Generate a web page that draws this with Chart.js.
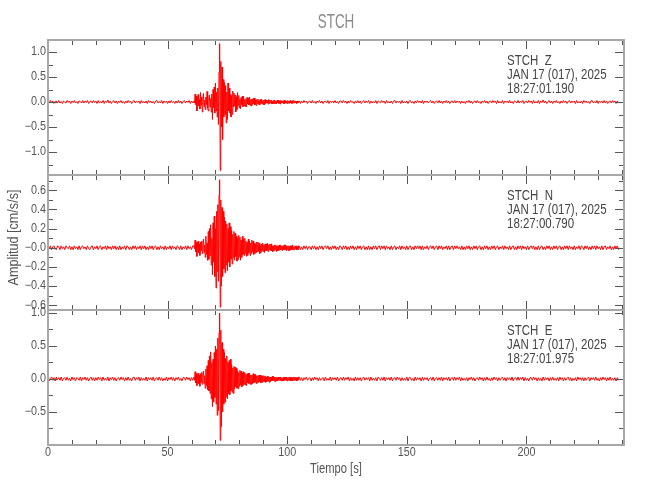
<!DOCTYPE html>
<html><head><meta charset="utf-8">
<script src="https://cdn.jsdelivr.net/npm/chart.js@4.4.1/dist/chart.umd.min.js"></script>
<style>
html,body{margin:0;padding:0;background:#fff;}
#wrap{position:relative;width:650px;height:500px;}
canvas{position:absolute;left:0;top:0;}
</style></head><body>
<div id="wrap">
<canvas id="cZ" width="650" height="500"></canvas>
<canvas id="cN" width="650" height="500"></canvas>
<canvas id="cE" width="650" height="500"></canvas>
</div>
<script>
// ---- sampling of the three record segments (seconds) ----
const PRE_START = 0,  PRE_DT = 0.5;
const ACT_START = 61, ACT_DT = 0.25;
const POST_START = 105, POST_DT = 0.5;

// ---- Z component (cm/s/s) ----
const preZ = [.01,-.02,.03,-.01,.02,-.03,.01,.02,-.02,.03,-.02,.01,-.03,.02,0,-.02,.03,-.01,.02,-.03,
 .02,-.01,.03,-.02,.01,-.03,.02,.01,-.02,.03,-.02,.02,-.01,.03,-.03,.01,.02,-.02,.03,-.01,
 .02,-.03,.03,-.02,.01,-.02,.03,-.03,.02,-.01,.04,-.02,.02,-.03,.01,.03,-.02,.02,-.03,.02,
 -.01,.03,-.02,.01,-.03,.02,-.02,.03,-.01,.02,-.03,.01,.03,-.02,.02,-.01,.02,-.03,.03,-.02,
 .01,-.02,.02,-.03,.03,-.01,.02,-.02,.01,-.03,.02,.03,-.02,.01,-.02,.03,-.03,.02,-.01,.02,
 -.03,.02,-.02,.03,-.01,.01,-.03,.02,-.02,.03,-.02,.02,-.03,.01,.03,-.02,.02,-.01,.03,-.03,
 .02,-.02];
const actZ = [.02,-.02,.16,-.05, .12,-.18,.06,.15, -.08,.05,-.14,.19, -.06,.10,-.20,.08,
 .17,-.09,.04,-.15, .10,-.05,.21,-.12, -.18,.08,.14,-.10, .07,-.20,.16,-.35,
 .25,-.12,.30,-.22, .38,-.18,.20,-.30, .28,-.45,.60,1.17, -1.37,.81,-.50,.70,
 -.75,.45,-.30,.39, -.25,.33,-.42,.20, -.35,.38,-.18,.28, -.22,.15,-.30,.12,
 -.25,.22,-.10,.18, -.08,.14,-.20,.10, -.15,.19,-.07,.13, -.12,.06,-.14,.09,
 -.05,.12,-.10,.11, -.08,.05,-.09,.07, -.10,.09,-.04,.08, -.06,.10,-.07,.05,
 -.08,.06,-.05,.07, -.04,.08,-.06,.04, -.07,.05,-.03,.06, -.05,.03,-.06,.05,
 -.03,.06,-.04,.03, -.05,.04,-.06,.05, -.03,.04,-.02,.03, -.04,.05,-.03,.04,
 -.02,.03,-.04,.02, -.04,.03,-.03,.04, -.03,.02,-.04,.03, -.02,.04,-.03,.02,
 -.04,.03,-.02,.03, -.02,.02,-.03,.04, -.03,.03,-.02,.02, -.03,.03,-.02,.02,
 -.03,.03,-.02,.02, -.03,.03,-.02,.03, -.02,.02,-.02,.02, -.03,.02,-.02,.02];
const postZ = [.02,-.03,.02,-.02,.03,-.01,.02,-.03,.01,.02,-.02,.03,-.02,.01,-.03,.02,-.01,.03,-.02,.02,
 -.03,.01,.02,-.02,.03,-.03,.02,-.01,.02,-.02,.03,-.02,.01,-.03,.02,.02,-.02,.03,-.01,.02,
 -.03,.02,-.02,.03,-.01,.01,-.03,.02,-.02,.03,-.02,.02,-.03,.01,.03,-.02,.02,-.01,.03,-.03,
 .02,-.02,.01,-.02,.03,-.03,.02,.01,-.02,.03,-.01,.02,-.03,.03,-.02,.01,-.02,.02,-.03,.02,
 .03,-.02,.02,-.01,.02,-.03,.03,-.02,.01,-.02,.02,-.03,.02,.03,-.02,.01,-.03,.02,-.02,.03,
 -.01,.02,-.02,.03,-.03,.02,-.01,.02,-.02,.01,.03,-.02,.02,-.03,.01,.02,-.02,.03,-.02,.02,
 -.03,.02,-.01,.03,-.02,.02,-.03,.01,.02,-.02,.03,-.02,.02,-.01,.02,-.03,.02,-.02,.01,-.03,
 .02,-.01,.03,-.02,.02,-.03,.01,.02,-.02,.03,-.02,.01,-.03,.02,-.01,.03,-.02,.02,-.03,.01,
 .02,-.02,.03,-.01,.02,-.03,.03,-.02,.01,-.02,.03,-.03,.02,-.01,.02,-.02,.03,-.02,.01,-.03,
 .02,.01,-.02,.03,-.02,.02,-.01,.03,-.03,.01,.02,-.02,.03,-.01,.02,-.03,.03,-.02,.01,-.02,
 .03,-.03,.02,-.01,.04,-.02,.02,-.03,.01,.03,-.02,.02,-.03,.02,-.01,.03,-.02,.01,-.03,.02,
 -.02,.03,-.01,.02,-.03,.01,.03,-.02,.02,-.01,.02,-.03,.03,-.02,.01,-.02,.02,-.03,.03,-.01,
 .02,-.02,.01,-.03,.02,.03,-.02,.01,-.02,.03,-.03,.02,-.01,.02,-.02,.03,-.02,.02,-.03,.01,
 .02,-.02,.03,-.01,.02,-.03,.02,-.02];

// ---- N component ----
const preN = [.01,-.01,.02,-.02,.01,.02,-.01,-.02,.02,.01,-.02,.02,-.01,.01,-.02,.02,0,-.01,.02,-.02,
 .01,-.02,.02,-.01,.01,-.02,.02,-.02,.01,.02,-.01,.01,-.02,.02,-.01,-.02,.01,.02,-.02,.01,
 -.01,.02,-.02,.01,.02,-.02,.01,-.01,.02,-.02,.02,-.01,.01,-.02,.02,-.01,.02,-.02,.01,-.02,
 .02,-.02,.01,-.01,.02,-.02,.02,.01,-.02,.01,-.02,.02,-.01,.02,-.02,.01,-.01,.02,-.02,.02,
 -.01,.02,-.02,.01,-.02,.02,-.01,.02,-.02,.01,.02,-.02,.01,-.02,.02,-.01,.01,-.02,.02,-.02,
 .01,-.01,.02,-.02,.02,-.01,.01,-.02,.02,.01,-.02,.02,-.02,.01,-.01,.02,-.02,.02,-.01,.01,
 -.02,.02];
const actN = [.02,-.01,.08,-.04, .06,-.09,.03,.07, -.05,.04,-.08,.06, -.03,.07,-.06,.04,
 .09,-.05,.03,-.10, .12,-.07,.05,-.13, .17,-.12,.20,-.08, .24,-.18,.10,-.28,
 .26,-.15,.33,-.30, .20,-.42,.38,-.25, .45,-.35,.55,.71, -.62,.50,-.40,.42,
 -.30,.38,-.22,.32, -.26,.28,-.18,.25, -.24,.20,-.15,.26, -.20,.22,-.12,.18,
 -.17,.14,-.10,.17, -.13,.15,-.09,.12, -.14,.10,-.12,.13, -.09,.11,-.13,.08,
 -.10,.12,-.07,.09, -.08,.10,-.06,.07, -.09,.06,-.08,.09, -.05,.07,-.08,.05,
 -.06,.08,-.04,.07, -.07,.05,-.06,.04, -.05,.06,-.04,.06, -.04,.05,-.06,.03,
 -.05,.04,-.03,.05, -.04,.03,-.05,.04, -.03,.04,-.03,.05, -.04,.03,-.02,.04,
 -.03,.04,-.03,.02, -.04,.02,-.03,.03, -.02,.03,-.04,.02, -.03,.02,-.03,.03,
 -.02,.03,-.02,.02, -.03,.02,-.02,.03, -.02,.03,-.03,.02, -.02,.02,-.03,.02,
 -.03,.02,-.02,.02, -.02,.03,-.02,.01, -.02,.02,-.01,.02, -.02,.01,-.02,.02];
const postN = [.02,-.02,.01,-.02,.02,-.01,.02,-.02,.01,.01,-.02,.02,-.01,.02,-.02,.01,-.02,.02,-.01,.02,
 -.02,.01,.02,-.01,.02,-.02,.01,-.02,.02,-.01,.02,-.02,.01,-.02,.02,.01,-.02,.02,-.01,.02,
 -.02,.01,-.02,.02,-.01,.02,-.02,.01,-.02,.02,-.01,.02,-.02,.01,.02,-.02,.01,-.02,.02,-.02,
 .01,-.02,.02,-.01,.02,-.02,.01,.02,-.02,.02,-.01,.02,-.02,.02,-.01,.01,-.02,.02,-.02,.01,
 .02,-.02,.01,-.01,.02,-.02,.02,-.01,.01,-.02,.02,-.02,.01,.02,-.02,.01,-.02,.02,-.01,.02,
 -.01,.02,-.02,.02,-.02,.01,-.01,.02,-.02,.01,.02,-.01,.02,-.02,.01,.02,-.02,.02,-.01,.02,
 -.02,.01,-.01,.02,-.02,.02,-.02,.01,.02,-.02,.02,-.01,.02,-.01,.01,-.02,.02,-.02,.01,-.02,
 .02,-.01,.02,-.02,.01,-.02,.02,-.01,.02,-.02,.01,.02,-.02,.01,-.02,.02,-.01,.02,-.02,.01,
 -.02,.02,-.01,.02,-.02,.01,.02,-.02,.01,-.01,.02,-.02,.02,-.01,.01,-.02,.02,-.02,.01,.02,
 -.02,.01,-.02,.02,-.01,.02,-.02,.02,-.01,.01,-.02,.02,-.02,.01,.02,-.01,.02,-.02,.01,-.02,
 .02,-.02,.01,.02,-.02,.01,-.02,.02,-.01,.02,-.02,.01,-.02,.02,-.01,.02,-.02,.01,.02,-.02,
 .01,-.02,.02,-.01,.02,-.02,.02,-.01,.01,-.02,.02,-.02,.01,-.01,.02,-.02,.02,.01,-.02,.02,
 -.01,.02,-.02,.01,-.02,.02,-.01,.02,-.02,.02,-.01,.01,-.02,.02,-.02,.01,.02,-.02,.01,-.01,
 .02,-.02,.01,-.02,.02,-.01,.02,-.02];

// ---- E component ----
const preE = [.02,-.03,.01,.03,-.02,.02,-.03,.03,-.01,.02,-.02,.03,-.03,.01,.02,-.02,.03,-.02,.01,-.03,
 .03,-.01,.02,-.03,.02,.01,-.02,.03,-.03,.02,-.01,.03,-.02,.02,-.03,.01,.03,-.02,.02,-.03,
 .02,-.02,.03,-.01,.02,-.03,.03,-.02,.01,-.02,.03,-.03,.02,-.01,.03,-.02,.02,-.03,.01,.02,
 -.02,.03,-.01,.02,-.03,.02,-.02,.03,-.02,.01,-.03,.02,.03,-.02,.02,-.01,.03,-.03,.02,-.02,
 .01,-.02,.03,-.03,.02,-.01,.02,-.02,.03,-.03,.01,.02,-.02,.03,-.02,.02,-.03,.01,-.02,.03,
 -.03,.02,-.01,.03,-.02,.02,-.03,.02,-.01,.03,-.02,.01,-.03,.02,.02,-.02,.03,-.01,.02,-.03,
 .02,-.02];
const actE = [.03,-.02,.11,-.06, .08,-.10,.05,.09, -.07,.06,-.11,.08, -.05,.10,-.08,.06,
 .12,-.07,.05,-.14, .15,-.10,.20,-.16, .28,-.18,.35,-.22, .41,-.30,.25,-.42,
 .30,-.35,.40,-.28, .50,-.38,.45,-.55, .62,-.48,.70,1.00, -.93,.74,-.72,.55,
 -.50,.45,-.38,.40, -.35,.31,-.27,.35, -.30,.25,-.22,.28, -.24,.30,-.18,.22,
 -.20,.17,-.22,.19, -.15,.18,-.12,.16, -.14,.12,-.15,.10, -.11,.13,-.09,.12,
 -.12,.09,-.10,.11, -.08,.10,-.09,.07, -.10,.08,-.06,.09, -.07,.09,-.08,.06,
 -.08,.06,-.07,.08, -.06,.07,-.05,.07, -.07,.05,-.06,.05, -.05,.06,-.04,.06,
 -.06,.04,-.05,.05, -.04,.05,-.04,.04, -.05,.03,-.04,.04, -.03,.04,-.05,.03,
 -.04,.03,-.03,.04, -.03,.04,-.03,.03, -.04,.03,-.03,.02, -.03,.03,-.02,.03,
 -.02,.03,-.03,.02, -.03,.02,-.03,.03, -.02,.03,-.02,.03, -.03,.02,-.02,.03,
 -.02,.03,-.03,.02, -.03,.02,-.02,.03, -.02,.03,-.02,.02, -.03,.02,-.02,.03];
const postE = [.03,-.02,.02,-.03,.02,-.01,.03,-.02,.01,.02,-.03,.02,-.02,.03,-.01,.02,-.03,.02,-.02,.01,
 .02,-.03,.03,-.02,.01,-.02,.03,-.03,.02,-.01,.02,-.02,.03,-.03,.01,.02,-.02,.03,-.02,.02,
 -.01,.03,-.03,.02,-.02,.01,-.03,.03,-.02,.02,-.02,.02,-.03,.01,.03,-.02,.02,-.01,.02,-.03,
 .03,-.02,.01,-.02,.02,-.03,.03,.01,-.02,.02,-.02,.03,-.03,.02,-.01,.02,-.02,.03,-.03,.01,
 .02,-.02,.03,-.01,.02,-.03,.02,-.02,.01,-.02,.03,-.03,.02,.02,-.02,.01,-.03,.03,-.02,.02,
 -.01,.02,-.03,.03,-.02,.02,-.01,.02,-.03,.01,.02,-.02,.03,-.03,.01,.02,-.02,.02,-.02,.03,
 -.03,.02,-.01,.02,-.02,.03,-.03,.01,.02,-.02,.03,-.02,.02,-.01,.03,-.03,.02,-.02,.01,-.02,
 .02,-.03,.02,-.01,.03,-.02,.02,-.03,.01,.02,-.02,.03,-.01,.02,-.03,.02,-.02,.03,-.02,.01,
 -.03,.02,-.02,.03,-.01,.02,-.03,.02,-.02,.01,.03,-.02,.02,-.03,.02,-.01,.02,-.02,.03,-.03,
 .01,.02,-.02,.03,-.02,.02,-.01,.03,-.03,.02,-.02,.01,-.03,.02,.02,-.02,.03,-.01,.02,-.03,
 .02,-.02,.01,-.03,.03,-.02,.02,-.01,.02,-.03,.02,-.02,.03,-.02,.01,-.02,.02,-.03,.03,-.01,
 .02,-.03,.02,-.02,.01,.03,-.02,.02,-.03,.01,-.02,.02,-.03,.03,-.01,.02,-.02,.02,-.03,.02,
 -.02,.01,.03,-.03,.02,-.01,.02,-.02,.03,-.02,.01,-.03,.02,-.02,.03,-.01,.02,-.03,.02,-.02,
 .03,-.02,.01,-.02,.02,-.03,.02,-.02];

// ---- axes ----
const X_MIN = 0, X_MAX = 240.8;
const xTickValues = [0, 50, 100, 150, 200];
const xTickLabels = ['0', '50', '100', '150', '200'];
const xMinorValues = [10,20,30,40,60,70,80,90,110,120,130,140,160,170,180,190,210,220,230,240];

const yRangeZ = [-1.46, 1.24];
const yTicksZ = [-1.0, -0.5, 0.0, 0.5, 1.0];
const yLabelsZ = ['−1.0', '−0.5', '0.0', '0.5', '1.0'];
const yMinorZ = [-1.25, -0.75, -0.25, 0.25, 0.75];

const yRangeN = [-0.65, 0.76];
const yTicksN = [-0.6, -0.4, -0.2, 0.0, 0.2, 0.4, 0.6];
const yLabelsN = ['−0.6', '−0.4', '−0.2', '−0.0', '0.2', '0.4', '0.6'];
const yMinorN = [-0.5, -0.3, -0.1, 0.1, 0.3, 0.5, 0.7];

const yRangeE = [-1.0, 1.045];
const yTicksE = [-0.5, 0.0, 0.5, 1.0];
const yLabelsE = ['−0.5', '0.0', '0.5', '1.0'];
const yMinorE = [-0.75, -0.25, 0.25, 0.75];

const notesZ = ['STCH  Z', 'JAN 17 (017), 2025', '18:27:01.190'];
const notesN = ['STCH  N', 'JAN 17 (017), 2025', '18:27:00.790'];
const notesE = ['STCH  E', 'JAN 17 (017), 2025', '18:27:01.975'];

const TITLE = 'STCH';
const X_TITLE = 'Tiempo [s]';
const Y_TITLE = 'Amplitud [cm/s/s]';

// ---- build ----
function buildSeries(pre, act, post) {
  const out = [];
  pre.forEach((v, i) => out.push({x: PRE_START + i * PRE_DT, y: v}));
  act.forEach((v, i) => out.push({x: ACT_START + i * ACT_DT, y: v}));
  post.forEach((v, i) => out.push({x: POST_START + i * POST_DT, y: v}));
  return out;
}

const FONT = '"Liberation Sans", Arial, sans-serif';
const TXT = '#555555';

function drawText(ctx, s, x, y, size, color, align, sx, rot) {
  ctx.save();
  ctx.translate(x, y);
  if (rot) ctx.rotate(rot);
  ctx.scale(sx, 1);
  ctx.font = size + 'px ' + FONT;
  ctx.fillStyle = color; ctx.textAlign = align; ctx.textBaseline = 'middle';
  ctx.fillText(s, 0, 0);
  ctx.restore();
}

function framePlugin(cfg) {
  return {
    id: 'frame' + cfg.key,
    afterDatasetsDraw(chart) {
      const ctx = chart.ctx, a = chart.chartArea, x = chart.scales.x, y = chart.scales.y;
      ctx.save();
      ctx.strokeStyle = '#555555'; ctx.lineWidth = 1;
      ctx.beginPath();
      const xt = (v, len) => { const px = Math.round(x.getPixelForValue(v)) + 0.5;
        ctx.moveTo(px, a.top); ctx.lineTo(px, a.top + len); ctx.moveTo(px, a.bottom); ctx.lineTo(px, a.bottom - len); };
      const yt = (v, len) => { const py = Math.round(y.getPixelForValue(v)) + 0.5;
        ctx.moveTo(a.left, py); ctx.lineTo(a.left + len, py); ctx.moveTo(a.right, py); ctx.lineTo(a.right - len, py); };
      xTickValues.forEach(v => xt(v, 9));
      xMinorValues.forEach(v => xt(v, 5));
      cfg.yMajor.forEach(v => yt(v, 9));
      cfg.yMinor.forEach(v => yt(v, 5));
      ctx.stroke();
      ctx.strokeStyle = '#a8a8a8'; ctx.lineWidth = 2;
      ctx.strokeRect(a.left, a.top, a.right - a.left, a.bottom - a.top);
      ctx.restore();
      // y tick labels
      cfg.yMajor.forEach((v, i) => drawText(ctx, cfg.yLabels[i], a.left - 2, y.getPixelForValue(v), 12, TXT, 'right', 0.9));
      // x tick labels
      if (cfg.showX) xTickValues.forEach((v, i) => drawText(ctx, xTickLabels[i], x.getPixelForValue(v), a.bottom + 8, 12, TXT, 'center', 0.9));
      // station notes
      cfg.notes.forEach((t, i) => drawText(ctx, t, 507, a.top + 21 + 14 * i, 14, '#444444', 'left', 0.82));
      if (cfg.extra) cfg.extra(ctx, a);
    }
  };
}

function makeChart(id, key, series, yRange, yTicks, yLabels, yMinor, notes, padTop, padBottom, showX, extra) {
  return new Chart(document.getElementById(id), {
    type: 'line',
    data: {datasets: [{data: series, borderColor: '#ff0000', borderWidth: 1, pointRadius: 0, tension: 0, fill: false}]},
    options: {
      responsive: false, animation: false, devicePixelRatio: 1, parsing: false, normalized: true,
      layout: {padding: {top: padTop, bottom: padBottom, left: 48, right: 26}},
      plugins: {legend: {display: false}, tooltip: {enabled: false}},
      scales: {
        x: {type: 'linear', min: X_MIN, max: X_MAX, display: false},
        y: {type: 'linear', min: yRange[0], max: yRange[1], display: false}
      }
    },
    plugins: [framePlugin({key, yMajor: yTicks, yLabels, yMinor, notes, showX, extra})]
  });
}

makeChart('cZ', 'Z', buildSeries(preZ, actZ, postZ), yRangeZ, yTicksZ, yLabelsZ, yMinorZ, notesZ, 40, 325, false,
  (ctx, a) => drawText(ctx, TITLE, (a.left + a.right) / 2, 22, 21, '#8a8a8a', 'center', 0.64));
makeChart('cN', 'N', buildSeries(preN, actN, postN), yRangeN, yTicksN, yLabelsN, yMinorN, notesN, 175, 190, false,
  (ctx, a) => drawText(ctx, Y_TITLE, 14, (a.top + a.bottom) / 2 - 5, 14, TXT, 'center', 0.9, -Math.PI / 2));
makeChart('cE', 'E', buildSeries(preE, actE, postE), yRangeE, yTicksE, yLabelsE, yMinorE, notesE, 310, 55, true,
  (ctx, a) => drawText(ctx, X_TITLE, (a.left + a.right) / 2, 469, 14, TXT, 'center', 0.8));
</script>
</body></html>
